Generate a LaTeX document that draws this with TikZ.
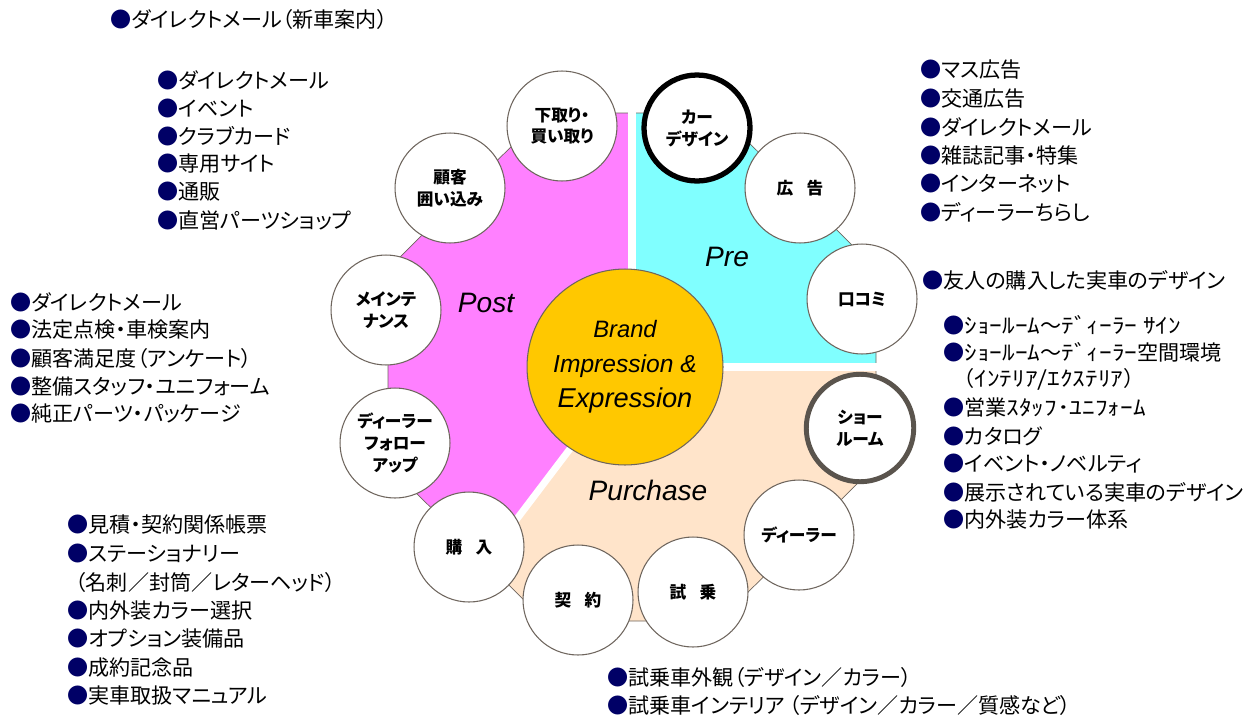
\documentclass[tikz,border=0pt]{standalone}
\usepackage{fontspec}
\usepackage{tikz}
\newfontfamily\jp[RawFeature=+palt]{Noto Sans CJK JP}
\newfontfamily\jpw{Noto Sans CJK JP}
\newfontfamily\jph[FakeStretch=1.2]{Noto Sans CJK JP}
\newfontfamily\lat{Liberation Sans}
\definecolor{postpink}{HTML}{FF80FF}
\definecolor{precyan}{HTML}{80FFFF}
\definecolor{purpeach}{HTML}{FFE4CA}
\definecolor{brandgold}{HTML}{FFC800}
\definecolor{dotnavy}{HTML}{000066}
\definecolor{rimgray}{HTML}{6E655D}
\definecolor{showgray}{HTML}{5A544D}
\newcommand{\bul}{\textcolor{dotnavy}{●}}
\newcommand{\hw}[1]{{\jph #1}}

\begin{document}
\begin{tikzpicture}[x=0.02cm, y=-0.02cm,
    stage/.style={circle, draw=rimgray, line width=0.6pt, fill=white, minimum size=2.2cm, inner sep=0pt, align=center, font=\jp\bfseries\fontsize{9.5}{12.5}\selectfont},
    item/.style={anchor=west, inner sep=0pt, font=\jp\fontsize{12}{14}\selectfont},
    narrowitem/.style={item, font=\jpw\fontsize{12}{14}\selectfont},
    phase/.style={font=\lat\itshape\fontsize{16}{18}\selectfont}]
    \useasboundingbox (0,0) rectangle (1260,717);

    % Regions
    \coordinate (ctr) at (632,367);
    \coordinate (cut) at (485,561);
    \coordinate (topmid) at (632,110);
    \coordinate (rightmid) at (880,367);
    \fill[precyan] (632,113) -- (719,113) -- (876,269) -- (876,367) -- (ctr) -- cycle;
    \fill[purpeach] (ctr) -- (876,367) -- (876,465) -- (719,621) -- (545,621) -- (cut) -- cycle;
    \fill[postpink] (ctr) -- (cut) -- (388,465) -- (388,269) -- (545,113) -- (632,113) -- cycle;
    \draw[rimgray, line width=0.4pt] (545,113) -- (719,113) -- (876,269) -- (876,465) -- (719,621) -- (545,621) -- (388,465) -- (388,269) -- cycle;
    \draw[white, line width=4pt] (topmid) -- (ctr) -- (rightmid);
    \draw[white, line width=4pt] (ctr) -- (cut);

    % Centre
    \node (brand) [circle, draw=rimgray, line width=0.6pt, fill=brandgold, minimum size=3.92cm, align=center, font=\lat\itshape\fontsize{14}{20}\selectfont] at (625,367)
        {{\fontsize{13.5}{20}\selectfont Brand}\\Impression \&\\{\fontsize{15.5}{20}\selectfont Expression}};
    \node (post) [phase] at (486,303) {Post};
    \node (pre) [phase] at (727,257) {Pre};
    \node (purch) [phase] at (648,490) {Purchase};

    % Circles
    \node (trade) [stage] at (562,126) {下取り・\\買い取り};
    \node (design) [stage, draw=black, line width=3pt, minimum size=2.12cm] at (697,128) {カー\\デザイン};
    \node (adv) [stage] at (800,188) {広\hspace{0.8em}告};
    \node (wom) [stage] at (862,299) {口コミ};
    \node (show) [stage, draw=showgray, line width=2.8pt, minimum size=2.15cm] at (860,428) {ショー\\ルーム};
    \node (dealer) [stage] at (799,535) {ディーラー};
    \node (drive) [stage] at (693,592) {試\hspace{0.8em}乗};
    \node (deal) [stage] at (578,600) {契\hspace{0.8em}約};
    \node (buy) [stage] at (469,547) {購\hspace{0.8em}入};
    \node (follow) [stage] at (395,443) {ディーラー\\フォロー\\アップ};
    \node (maint) [stage] at (386,310) {メインテ\\ナンス};
    \node (retain) [stage] at (450,188) {顧客\\囲い込み};

    % Lists
    \node (newcar) [item] at (110,19) {\bul ダイレクトメール（新車案内）};

    \node (keep1) [item] at (157,80) {\bul ダイレクトメール};
    \node (keep2) [item] at (157,108) {\bul イベント};
    \node (keep3) [item] at (157,136) {\bul クラブカード};
    \node (keep4) [item] at (157,164) {\bul 専用サイト};
    \node (keep5) [item] at (157,192) {\bul 通販};
    \node (keep6) [item] at (157,220) {\bul 直営パーツショップ};

    \node (ad1) [item] at (920,70) {\bul マス広告};
    \node (ad2) [item] at (920,98.5) {\bul 交通広告};
    \node (ad3) [item] at (920,127) {\bul ダイレクトメール};
    \node (ad4) [item] at (920,155) {\bul 雑誌記事・特集};
    \node (ad5) [item] at (920,183.5) {\bul インターネット};
    \node (ad6) [item] at (920,212) {\bul ディーラーちらし};

    \node (friend) [item] at (922,280) {\bul 友人の購入した実車のデザイン};

    \node (sr1) [narrowitem] at (943,325) {\bul \hw{ｼｮｰﾙｰﾑ}～\hw{ﾃﾞｨｰﾗｰ ｻｲﾝ}};
    \node (sr2) [narrowitem] at (943,352) {\bul \hw{ｼｮｰﾙｰﾑ}～\hw{ﾃﾞｨｰﾗｰ}空間環境};
    \node (sr3) [narrowitem] at (953,379) {（\hw{ｲﾝﾃﾘｱ/ｴｸｽﾃﾘｱ}）};
    \node (sr4) [narrowitem] at (943,407) {\bul 営業\hw{ｽﾀｯﾌ･ﾕﾆﾌｫｰﾑ}};
    \node (sr5) [item] at (943,436) {\bul カタログ};
    \node (sr6) [item] at (943,464) {\bul イベント・ノベルティ};
    \node (sr7) [item] at (943,492) {\bul 展示されている実車のデザイン};
    \node (sr8) [item] at (943,520) {\bul 内外装カラー体系};

    \node (mt1) [item] at (10,302) {\bul ダイレクトメール};
    \node (mt2) [item] at (10,330) {\bul 法定点検・車検案内};
    \node (mt3) [item] at (10,358) {\bul 顧客満足度（アンケート）};
    \node (mt4) [item] at (10,386) {\bul 整備スタッフ・ユニフォーム};
    \node (mt5) [item] at (10,414) {\bul 純正パーツ・パッケージ};

    \node (ct1) [item] at (67,525) {\bul 見積・契約関係帳票};
    \node (ct2) [item] at (67,553.5) {\bul ステーショナリー};
    \node (ct3) [item] at (75,582) {（名刺／封筒／レターヘッド）};
    \node (ct4) [item] at (67,610.5) {\bul 内外装カラー選択};
    \node (ct5) [item] at (67,639) {\bul オプション装備品};
    \node (ct6) [item] at (67,667.5) {\bul 成約記念品};
    \node (ct7) [item] at (67,696) {\bul 実車取扱マニュアル};

    \node (td1) [item] at (607,677) {\bul 試乗車外観（デザイン／カラー）};
    \node (td2) [item] at (607,705) {\bul 試乗車インテリア （デザイン／カラー／質感など）};
\end{tikzpicture}
\end{document}
